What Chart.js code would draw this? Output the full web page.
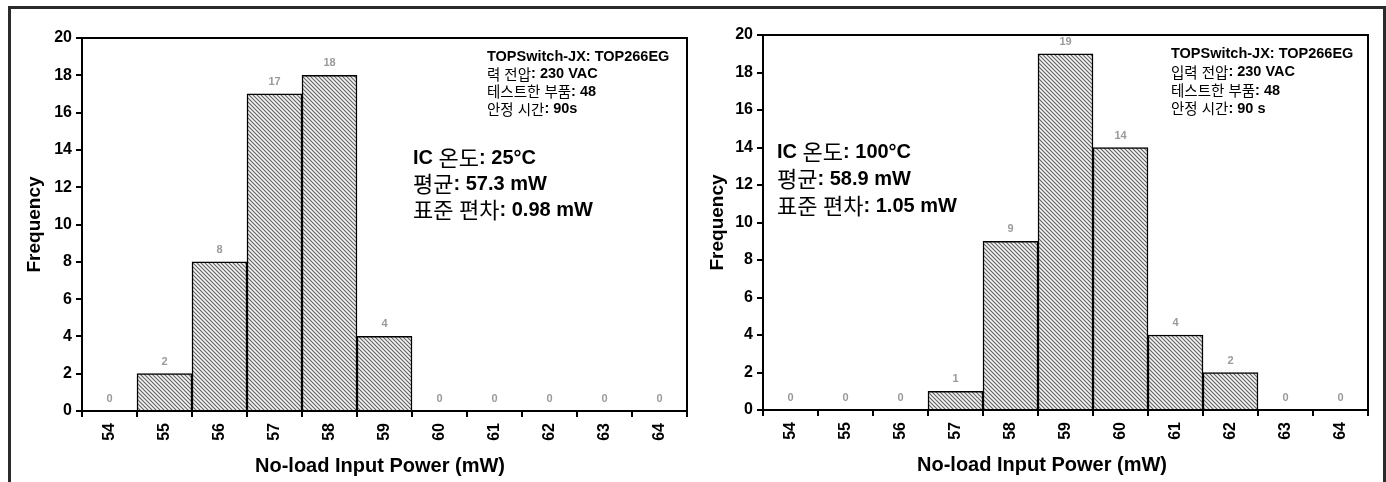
<!DOCTYPE html>
<html>
<head>
<meta charset="utf-8">
<script src="https://cdn.jsdelivr.net/npm/chart.js@4"></script>
<style>
html,body{margin:0;padding:0;background:#fff;width:1386px;height:482px;overflow:hidden;}
#frame{position:absolute;left:8px;top:6px;width:1372px;height:490px;border:3px solid #2b2b2b;border-bottom:none;}
.box{position:absolute;}
#c1{left:10px;top:8px;width:680px;height:474px;}
#c2{left:700px;top:8px;width:682px;height:474px;}
</style>
</head>
<body>
<div id="frame"></div>
<div class="box" id="c1"><canvas id="chart1"></canvas></div>
<div class="box" id="c2"><canvas id="chart2"></canvas></div>
<script>
// ---- data ----
const categories = ['54','55','56','57','58','59','60','61','62','63','64'];
const freq25C = [0, 2, 8, 17, 18, 4, 0, 0, 0, 0, 0];
const freq100C = [0, 0, 0, 1, 9, 19, 14, 4, 2, 0, 0];
const yMin = 0, yMax = 20, yStep = 2;
const xTitle = 'No-load Input Power (mW)';
const yTitle = 'Frequency';
const info25 = ['TOPSwitch-JX: TOP266EG', '력 전압: 230 VAC', '테스트한 부품: 48', '안정 시간: 90s'];
const stats25 = ['IC 온도: 25°C', '평균: 57.3 mW', '표준 편차: 0.98 mW'];
const info100 = ['TOPSwitch-JX: TOP266EG', '입력 전압: 230 VAC', '테스트한 부품: 48', '안정 시간: 90 s'];
const stats100 = ['IC 온도: 100°C', '평균: 58.9 mW', '표준 편차: 1.05 mW'];

// ---- hatch pattern ----
function makePattern(){
  const c = document.createElement('canvas');
  c.width = 4; c.height = 4;
  const g = c.getContext('2d');
  const img = g.createImageData(4,4);
  for(let y=0;y<4;y++){for(let x=0;x<4;x++){
    const i=(y*4+x)*4;
    const d = ((x - y) % 4 + 4) % 4;
    let v = d===0 ? 105 : (d===1||d===3 ? 200 : 245);
    img.data[i]=v;img.data[i+1]=v;img.data[i+2]=v;img.data[i+3]=255;
  }}
  g.putImageData(img,0,0);
  return document.createElement('canvas').getContext('2d').createPattern(c,'repeat');
}
const hatch = makePattern();

function isHangul(ch){return /[\u1100-\u11FF\u3130-\u318F\uAC00-\uD7AF]/.test(ch);}
function drawMixed(ctx, text, x, y, size, hsize, fam){
  let cx = x;
  let runs = [];
  for(const ch of text){
    const h = isHangul(ch);
    if(runs.length && runs[runs.length-1].h===h) runs[runs.length-1].t += ch;
    else runs.push({h, t: ch});
  }
  for(const r of runs){
    ctx.font = r.h ? ('400 ' + hsize + 'px "Noto Sans CJK KR", sans-serif') : ('bold ' + size + 'px ' + fam);
    ctx.fillText(r.t, cx, y);
    cx += ctx.measureText(r.t).width;
  }
}

const boxPlugin = {
  id:'boxPlugin',
  afterDraw(chart, args, opts){
    const {ctx, chartArea:a} = chart;
    ctx.save();
    ctx.strokeStyle='#000'; ctx.lineWidth=2;
    ctx.strokeRect(a.left, a.top, a.right-a.left, a.bottom-a.top);
    // value labels
    const meta = chart.getDatasetMeta(0);
    const vals = chart.data.datasets[0].data;
    ctx.fillStyle='#9a9a9a';
    ctx.font='bold 11px ' + opts.fam;
    ctx.textAlign='center'; ctx.textBaseline='middle';
    meta.data.forEach((b,i)=>{ ctx.fillText(String(vals[i]), b.x, b.y - 12); });
    // x axis title
    ctx.fillStyle='#000';
    ctx.font='bold 20px ' + opts.fam;
    ctx.fillText(xTitle, opts.xtX, opts.xtY);
    // annotations
    ctx.textAlign='left';
    opts.info.forEach((t,i)=> drawMixed(ctx, t, opts.infoX, opts.infoY + i*opts.infoDy, opts.infoSize, opts.infoH, opts.fam));
    opts.stats.forEach((t,i)=> drawMixed(ctx, t, opts.statX, opts.statY + i*opts.statDy, opts.statSize, opts.statH, opts.fam));
    ctx.restore();
  }
};

function makeChart(id, data, pad, yW, xH, ytPad, ann){
  const fam = ann.fam;
  return new Chart(document.getElementById(id), {
    type:'bar',
    data:{labels:categories, datasets:[{data, backgroundColor:hatch, borderColor:'#000', borderWidth:1.5, borderSkipped:'start', barPercentage:1, categoryPercentage:1}]},
    options:{
      responsive:true, maintainAspectRatio:false, animation:false,
      layout:{padding:pad},
      plugins:{legend:{display:false}, tooltip:{enabled:false}, boxPlugin:ann},
      scales:{
        x:{
          afterFit(s){ s.height = xH; },
          grid:{display:true, drawOnChartArea:false, drawTicks:true, tickLength:6, color:'#000', lineWidth:2, offset:true},
          border:{display:true, color:'#000', width:2},
          ticks:{color:'#000', font:{family:fam, weight:'bold', size:16}, minRotation:90, maxRotation:90, padding:6, autoSkip:false},
          title:{display:false}
        },
        y:{
          min:yMin, max:yMax,
          afterFit(s){ s.width = yW; },
          grid:{display:true, drawOnChartArea:false, drawTicks:true, tickLength:6, color:'#000', lineWidth:2},
          border:{display:true, color:'#000', width:2},
          ticks:{stepSize:yStep, color:'#000', font:{family:fam, weight:'bold', size:16}, padding:4},
          title:{display:true, text:yTitle, color:'#000', font:{family:fam, weight:'bold', size:19}, padding:{top:ytPad,bottom:0}}
        }
      }
    },
    plugins:[boxPlugin]
  });
}

const famL = '"Liberation Sans", Arial, sans-serif';
const famR = '"Liberation Sans", Arial, sans-serif';

makeChart('chart1', freq25C, {top:30,right:3,left:0,bottom:0}, 72, 71, 13,
  {fam:famL, xtX:370, xtY:458,
   info:info25, infoX:477, infoY:49, infoDy:17.4, infoSize:14.5, infoH:14.5,
   stats:stats25, statX:403, statY:150, statDy:26, statSize:20, statH:22});
makeChart('chart2', freq100C, {top:27,right:14,left:0,bottom:0}, 63, 72, 6,
  {fam:famR, xtX:342, xtY:457,
   info:info100, infoX:471, infoY:46, infoDy:18.3, infoSize:14.5, infoH:14.5,
   stats:stats100, statX:77, statY:144, statDy:27, statSize:20, statH:22});
</script>
</body>
</html>
